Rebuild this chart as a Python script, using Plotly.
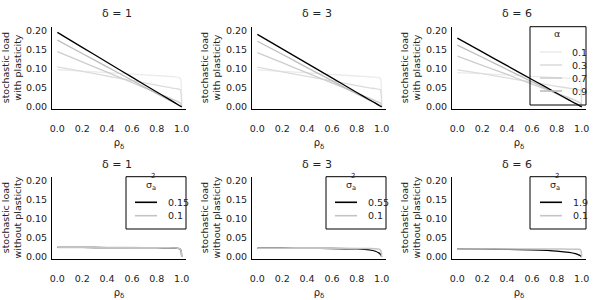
import plotly.graph_objects as go

# ---------------- data ----------------
deltas = [1, 3, 6]
alphas = [0.1, 0.3, 0.7, 0.9]
rho = [0.0, 0.2, 0.4, 0.6, 0.8, 0.9, 0.95, 0.98, 0.99, 0.997, 1.0]

# stochastic load with plasticity, per delta, per alpha (key 1.0 = black reference line)
with_plast_d1 = {
    0.1: [0.098, 0.094, 0.090, 0.086, 0.082, 0.080, 0.079, 0.077, 0.075, 0.06, 0.0],
    0.3: [0.105, 0.093, 0.081, 0.069, 0.057, 0.051, 0.048, 0.047, 0.045, 0.03, 0.0],
    0.7: [0.145, 0.118, 0.091, 0.064, 0.037, 0.024, 0.017, 0.012, 0.010, 0.005, 0.0],
    0.9: [0.175, 0.140, 0.105, 0.070, 0.035, 0.018, 0.010, 0.005, 0.003, 0.001, 0.0],
    1.0: [0.195, 0.156, 0.117, 0.078, 0.039, 0.020, 0.010, 0.004, 0.002, 0.001, 0.0],
}
with_plast_d3 = {
    0.1: [0.097, 0.093, 0.089, 0.085, 0.081, 0.079, 0.078, 0.076, 0.075, 0.06, 0.0],
    0.3: [0.104, 0.092, 0.080, 0.068, 0.056, 0.050, 0.048, 0.046, 0.045, 0.03, 0.0],
    0.7: [0.142, 0.116, 0.089, 0.063, 0.036, 0.023, 0.016, 0.012, 0.010, 0.005, 0.0],
    0.9: [0.172, 0.138, 0.103, 0.069, 0.034, 0.018, 0.010, 0.005, 0.003, 0.001, 0.0],
    1.0: [0.190, 0.152, 0.114, 0.076, 0.038, 0.019, 0.010, 0.004, 0.002, 0.001, 0.0],
}
with_plast_d6 = {
    0.1: [0.090, 0.087, 0.084, 0.080, 0.077, 0.075, 0.074, 0.073, 0.072, 0.05, 0.0],
    0.3: [0.097, 0.087, 0.076, 0.065, 0.054, 0.049, 0.047, 0.045, 0.044, 0.03, 0.0],
    0.7: [0.133, 0.109, 0.085, 0.060, 0.036, 0.024, 0.017, 0.012, 0.010, 0.005, 0.0],
    0.9: [0.162, 0.130, 0.098, 0.066, 0.034, 0.018, 0.010, 0.005, 0.003, 0.001, 0.0],
    1.0: [0.180, 0.144, 0.108, 0.072, 0.036, 0.018, 0.009, 0.004, 0.002, 0.001, 0.0],
}
with_plast = [with_plast_d1, with_plast_d3, with_plast_d6]

# stochastic load without plasticity: (sigma_a^2 high value, sigma_a^2 = 0.1)
sigma_high = [0.15, 0.55, 1.9]
sigma_low = 0.1
without_high = [
    [0.025, 0.0249, 0.0247, 0.0245, 0.0242, 0.0238, 0.0232, 0.0220, 0.020, 0.014, 0.0],
    [0.023, 0.0228, 0.0226, 0.0222, 0.0210, 0.0185, 0.0150, 0.0100, 0.007, 0.003, 0.0],
    [0.021, 0.0205, 0.0198, 0.0185, 0.0155, 0.0120, 0.0085, 0.0050, 0.003, 0.001, 0.0],
]
without_low = [
    [0.025, 0.0249, 0.0247, 0.0245, 0.0242, 0.0238, 0.0232, 0.0220, 0.020, 0.014, 0.0],
    [0.023, 0.0229, 0.0228, 0.0226, 0.0224, 0.0222, 0.0218, 0.0205, 0.018, 0.012, 0.0],
    [0.021, 0.0209, 0.0208, 0.0207, 0.0206, 0.0205, 0.0204, 0.0200, 0.019, 0.013, 0.0],
]

alpha_colors = {0.1: "#ebebeb", 0.3: "#dcdcdc", 0.7: "#cdcdcd", 0.9: "#bdbdbd", 1.0: "#000000"}
sigma_colors = {"high": "#000000", "low": "#c4c4c4"}

# ---------------- figure ----------------
fig = go.Figure()
W, H = 600, 300
FONT = "DejaVu Sans"
TXT = "#222"

def ax_id(r, c):
    n = r * 3 + c + 1
    return ("x" if n == 1 else f"x{n}"), ("y" if n == 1 else f"y{n}")

for c in range(3):
    xa, ya = ax_id(0, c)
    for a in [0.1, 0.3, 0.7, 0.9, 1.0]:
        fig.add_trace(go.Scatter(
            x=rho, y=with_plast[c][a], mode="lines", xaxis=xa, yaxis=ya,
            line=dict(color=alpha_colors[a], width=1.3, shape="spline", smoothing=0.6),
            name=f"α = {a}", showlegend=False,
        ))
    xa, ya = ax_id(1, c)
    fig.add_trace(go.Scatter(
        x=rho, y=without_high[c], mode="lines", xaxis=xa, yaxis=ya,
        line=dict(color=sigma_colors["high"], width=1.3, shape="spline", smoothing=0.6),
        name=str(sigma_high[c]), showlegend=False,
    ))
    fig.add_trace(go.Scatter(
        x=rho, y=without_low[c], mode="lines", xaxis=xa, yaxis=ya,
        line=dict(color=sigma_colors["low"], width=1.5, shape="spline", smoothing=0.6),
        name=str(sigma_low), showlegend=False,
    ))

layout = {}
for r in range(2):
    for c in range(3):
        n = r * 3 + c + 1
        xk = "xaxis" if n == 1 else f"xaxis{n}"
        yk = "yaxis" if n == 1 else f"yaxis{n}"
        x0 = (52 + 200 * c) / W
        x1 = (186 + 200 * c) / W
        ytop = 1 - (26.7 + 150 * r) / H
        ybot = 1 - (108.5 + 150 * r) / H
        xa, ya = ax_id(r, c)
        layout[xk] = dict(
            domain=[x0, x1], anchor=ya, range=[-0.043, 1.035],
            tickvals=[0, 0.2, 0.4, 0.6, 0.8, 1.0], ticktext=["0.0", "0.2", "0.4", "0.6", "0.8", "1.0"],
            showline=True, linecolor="black", linewidth=1, showgrid=False, zeroline=False,
            ticks="", ticklabelstandoff=11, tickfont=dict(size=9.5, color=TXT),
            title=dict(text="ρ<sub>δ</sub>", font=dict(size=10, color=TXT), standoff=6),
            automargin=False,
        )
        ytitle = "stochastic load<br>with plasticity" if r == 0 else "stochastic load<br>without plasticity"
        layout[yk] = dict(
            domain=[ybot, ytop], anchor=xa, range=[-0.004, 0.21],
            tickvals=[0, 0.05, 0.1, 0.15, 0.2], ticktext=["0.00", "0.05", "0.10", "0.15", "0.20"],
            showline=True, linecolor="black", linewidth=1, showgrid=False, zeroline=False,
            ticks="", ticklabelstandoff=2, tickfont=dict(size=9.5, color=TXT),
            title=dict(text=ytitle, font=dict(size=9.5, color=TXT), standoff=3),
            automargin=False,
        )

def px(x):
    return x / W

def py(y):
    return 1 - y / H

annotations = []
shapes = []
for r in range(2):
    for c in range(3):
        annotations.append(dict(
            text=f"δ = {deltas[c]}", x=px(117 + 200 * c), y=py(14 + 150 * r),
            xref="paper", yref="paper", showarrow=False, xanchor="center", yanchor="middle",
            font=dict(size=11, color=TXT),
        ))

def add_legend(box, title_xy, title_txt, sup_txt, entries, line_x, label_x):
    x0, y0, x1, y1 = box
    shapes.append(dict(type="rect", xref="paper", yref="paper",
                       x0=px(x0), x1=px(x1), y0=py(y0), y1=py(y1),
                       line=dict(color="black", width=1), fillcolor="rgba(0,0,0,0)"))
    annotations.append(dict(text=title_txt, x=px(title_xy[0]), y=py(title_xy[1]),
                            xref="paper", yref="paper", showarrow=False,
                            xanchor="center", yanchor="middle", font=dict(size=9.5, color=TXT)))
    if sup_txt:
        annotations.append(dict(text=sup_txt, x=px(title_xy[0] + 2), y=py(title_xy[1] - 9),
                                xref="paper", yref="paper", showarrow=False,
                                xanchor="center", yanchor="middle", font=dict(size=7, color=TXT)))
    for label, color, yy in entries:
        shapes.append(dict(type="line", xref="paper", yref="paper",
                           x0=px(line_x[0]), x1=px(line_x[1]), y0=py(yy), y1=py(yy),
                           line=dict(color=color, width=1.6)))
        annotations.append(dict(text=label, x=px(label_x), y=py(yy),
                                xref="paper", yref="paper", showarrow=False,
                                xanchor="left", yanchor="middle", font=dict(size=9.5, color=TXT)))

# alpha legend (top right panel)
add_legend((530, 26.7, 586, 105), (557, 34), "α", None,
           [(str(a), alpha_colors[a], 52 + 13 * i) for i, a in enumerate(alphas)],
           (540, 562), 570)

# sigma legends (bottom panels)
sig_boxes = [(126, 176.7, 186, 229), (326, 176.7, 386, 229), (530, 176.7, 586, 229)]
for c in range(3):
    bx = sig_boxes[c]
    lx0 = bx[0] + 9 if c < 2 else bx[0] + 10
    add_legend(bx, (bx[0] + 25, 185), "σ<sub>a</sub>", "2",
               [(str(sigma_high[c]), sigma_colors["high"], 202.3),
                (str(sigma_low), sigma_colors["low"], 215.7)],
               (lx0, lx0 + 22), lx0 + 31)

fig.update_layout(
    width=W, height=H, margin=dict(l=0, r=0, t=0, b=0, autoexpand=False),
    paper_bgcolor="white", plot_bgcolor="white",
    font=dict(family=FONT, size=10, color=TXT),
    annotations=annotations, shapes=shapes,
    showlegend=False,
    **layout,
)

fig.write_html(
    "out.html",
    config={"displayModeBar": False},
    post_script="document.body.style.margin='0px';document.body.style.overflow='hidden';",
)
